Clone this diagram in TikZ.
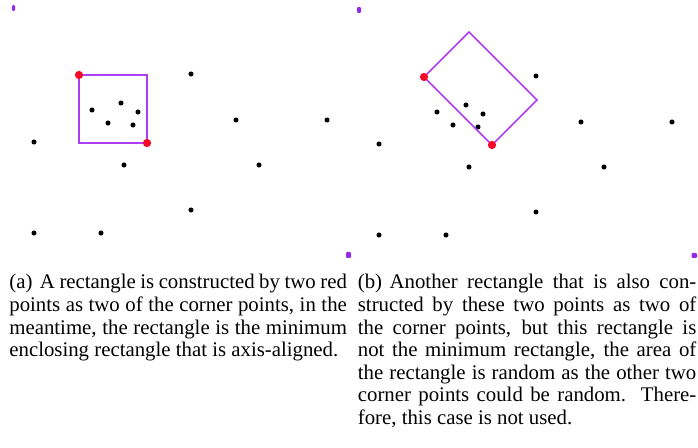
\documentclass[tikz,border=0pt]{standalone}
\usepackage{fontspec}
\setmainfont{Liberation Serif}
\definecolor{rectpurple}{RGB}{172,62,245}
\definecolor{markpurple}{RGB}{150,40,235}
\definecolor{cornerred}{RGB}{245,10,40}
\usetikzlibrary{positioning}
\newcommand{\jline}[1]{\makebox[\linewidth][s]{#1}\\}
\newcommand{\lline}[1]{\makebox[\linewidth][l]{#1}}

\begin{document}
\begin{tikzpicture}[
  x=0.5333pt, y=-0.5333pt,
  dot/.style={circle, fill=black, inner sep=0pt, minimum size=2.7pt},
  reddot/.style={circle, fill=cornerred, inner sep=0pt, minimum size=4.4pt},
  box/.style={draw=rectpurple, line width=0.9pt},
  cornermark/.style={fill=markpurple, rounded corners=0.6pt},
  capt/.style={anchor=base west, inner sep=0pt, font=\fontsize{11.1}{12.03}\selectfont}
]
\useasboundingbox (0,0) rectangle (698,448);

% Corner marks of the two panels
\fill[cornermark] (12,5) rectangle (15,11);
\fill[cornermark] (346,252) rectangle (351,258);
\fill[cornermark] (357,7) rectangle (361,13);
\fill[cornermark] (691.5,253) rectangle (697,258);

% Point sets, panel (b) is panel (a) shifted
\foreach \px/\py [count=\i] in {191/74, 92/110, 121/103, 108/123, 133/125,
    138/112, 236/120, 327/120, 34/142, 124/165, 259/165, 191/210, 34/233, 101/233} {
  \node[dot] (a\i) at (\px,\py) {};
  \node[dot] (b\i) at (\px+345,\py+2) {};
}

% Panel (a): axis-aligned rectangle
\coordinate (ra1) at (79,75);
\coordinate (ra2) at (147,143);
\draw[box] (ra1) rectangle (ra2);
\node[reddot] (pa1) at (ra1) {};
\node[reddot] (pa2) at (ra2) {};

% Panel (b): rotated rectangle
\coordinate (rb1) at (424,77);
\coordinate (rb2) at (492,145);
\coordinate (tb) at (469,32);
\coordinate (rtb) at (537,100);
\draw[box] (rb1) -- (tb) -- (rtb) -- (rb2) -- cycle;
\node[reddot] (pb1) at (rb1) {};
\node[reddot] (pb2) at (rb2) {};

% Captions
\node[capt] (capa) at (9,289) {\parbox[t]{180pt}{
  \jline{(a)\hskip 4pt A rectangle is constructed by two red}
  \jline{points as two of the corner points, in the}
  \jline{meantime, the rectangle is the minimum}
  \lline{enclosing rectangle that is axis-aligned.}}};
\node[capt] (capb) at (357.5,289) {\parbox[t]{180.5pt}{
  \jline{(b)\hskip 4pt Another rectangle that is also con-}
  \jline{structed by these two points as two of}
  \jline{the corner points, but this rectangle is}
  \jline{not the minimum rectangle, the area of}
  \jline{the rectangle is random as the other two}
  \jline{corner points could be random.\ \ There-}
  \lline{fore, this case is not used.}}};
\end{tikzpicture}
\end{document}
